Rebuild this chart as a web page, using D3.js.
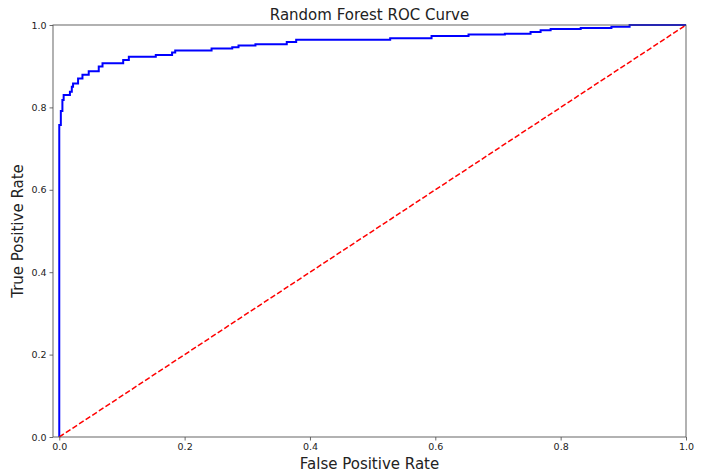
<!DOCTYPE html>
<html><head><meta charset="utf-8">
<script src="https://cdn.jsdelivr.net/npm/d3@7"></script>
<style>
html,body{margin:0;padding:0;background:#fff;}
svg{display:block;font-family:"DejaVu Sans",sans-serif;}
</style></head>
<body><svg id="c" width="704" height="475"></svg>
<script>
const fpr = [0, 0, 0.0025, 0.005, 0.007, 0.017, 0.020, 0.022, 0.030, 0.037, 0.047, 0.063, 0.069, 0.102, 0.111, 0.154, 0.180, 0.185, 0.243, 0.276, 0.286, 0.313, 0.363, 0.378, 0.528, 0.594, 0.653, 0.711, 0.752, 0.768, 0.784, 0.832, 0.881, 0.910, 1.0];
const tpr = [0, 0.757, 0.791, 0.818, 0.830, 0.838, 0.850, 0.858, 0.870, 0.879, 0.888, 0.899, 0.907, 0.915, 0.923, 0.927, 0.933, 0.938, 0.943, 0.946, 0.950, 0.953, 0.959, 0.964, 0.968, 0.973, 0.977, 0.979, 0.983, 0.987, 0.990, 0.993, 0.996, 1.0, 1.0];
const diagX = [0, 1];
const diagY = [0, 1];
const xTicks = [0.0, 0.2, 0.4, 0.6, 0.8, 1.0];
const yTicks = [0.0, 0.2, 0.4, 0.6, 0.8, 1.0];
const title = "Random Forest ROC Curve";
const xLabel = "False Positive Rate";
const yLabel = "True Positive Rate";

const L = 53, R = 686, T = 25, B = 437;
const svg = d3.select("#c");
const x = d3.scaleLinear().domain([-0.01, 1.0]).range([L, R]);
const y = d3.scaleLinear().domain([0, 1]).range([B, T]);

const g = svg.append("g");
// lines
const roc = fpr.map((f, i) => [f, tpr[i]]);
g.append("path").datum(roc)
  .attr("d", d3.line().x(d => x(d[0])).y(d => y(d[1])).curve(d3.curveStepAfter))
  .attr("fill", "none").attr("stroke", "#0000ff").attr("stroke-width", 2);
const diag = diagX.map((v, i) => [v, diagY[i]]);
g.append("path").datum(diag)
  .attr("d", d3.line().x(d => x(d[0])).y(d => y(d[1])))
  .attr("fill", "none").attr("stroke", "#ff0000").attr("stroke-width", 1.5)
  .attr("stroke-dasharray", "5.5,2.4");

// axes
const xa = svg.append("g").attr("transform", `translate(0,${B})`)
  .call(d3.axisBottom(x).tickValues(xTicks).tickFormat(d3.format(".1f")).tickSizeOuter(0).tickSize(3.5).tickPadding(3));
const ya = svg.append("g").attr("transform", `translate(${L},0)`)
  .call(d3.axisLeft(y).tickValues(yTicks).tickFormat(d3.format(".1f")).tickSizeOuter(0).tickSize(3.5).tickPadding(3));
[xa, ya].forEach(a => {
  a.select(".domain").remove();
  a.selectAll("text").attr("font-size", 9.5).attr("fill", "#222").attr("font-family", "DejaVu Sans");
  a.selectAll("line").attr("stroke", "#444").attr("stroke-width", 0.8);
});
// frame
svg.append("rect").attr("x", L).attr("y", T).attr("width", R - L).attr("height", B - T)
  .attr("fill", "none").attr("stroke", "#555").attr("stroke-width", 0.9);

svg.append("text").attr("x", (L + R) / 2).attr("y", 20).attr("text-anchor", "middle")
  .attr("font-size", 15).attr("fill", "#222").text(title);
svg.append("text").attr("x", (L + R) / 2).attr("y", 469).attr("text-anchor", "middle")
  .attr("font-size", 15).attr("fill", "#222").text(xLabel);
svg.append("text").attr("transform", `translate(23,${(T + B) / 2}) rotate(-90)`).attr("text-anchor", "middle")
  .attr("font-size", 15).attr("fill", "#222").text(yLabel);
</script></body></html>
